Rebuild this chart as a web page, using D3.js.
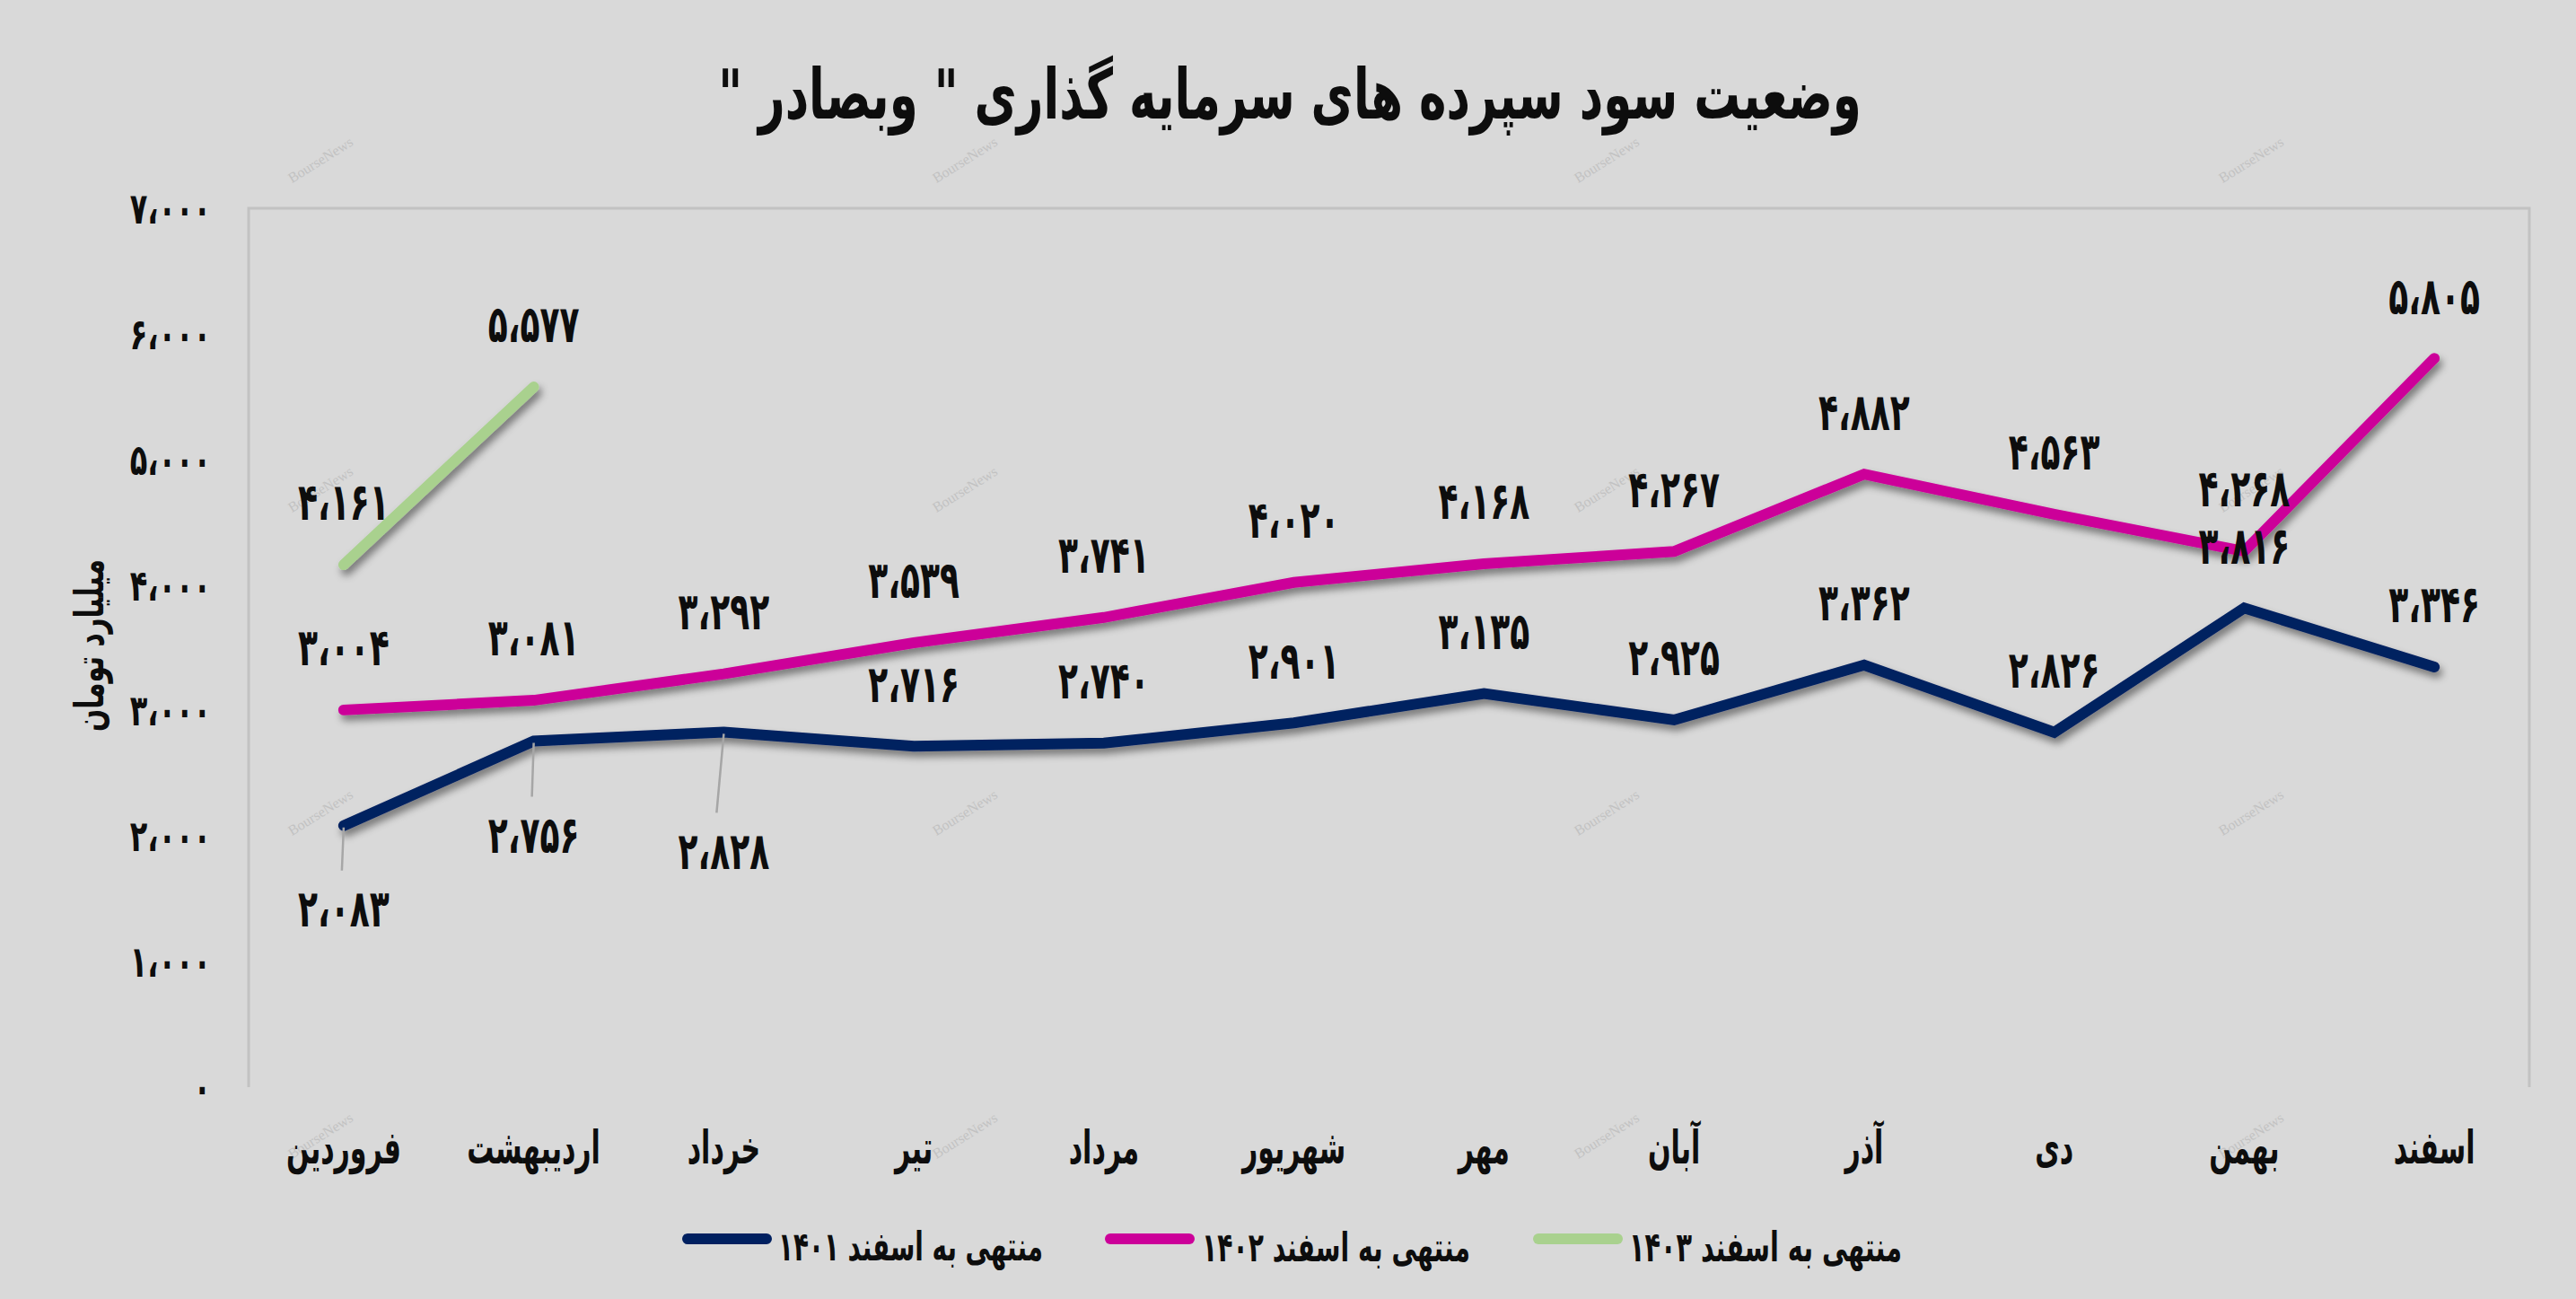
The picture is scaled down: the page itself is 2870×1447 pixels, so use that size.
<!DOCTYPE html>
<html>
<head>
<meta charset="utf-8">
<script src="https://cdn.jsdelivr.net/npm/d3@7"></script>
<style>
  html, body { margin: 0; padding: 0; background: #d9d9d9; }
  svg { display: block; }
  text { font-family: "DejaVu Sans", sans-serif; font-weight: bold; fill: #0d0d0d; }
</style>
</head>
<body>
<svg id="chart" width="2870" height="1447"></svg>
<script>
// ---------------- data ----------------
const months = ["فروردین", "اردیبهشت", "خرداد", "تیر", "مرداد", "شهریور", "مهر", "آبان", "آذر", "دی", "بهمن", "اسفند"];
const series1401 = [2083, 2756, 2828, 2716, 2740, 2901, 3135, 2925, 3362, 2826, 3816, 3346];
const series1402 = [3004, 3081, 3292, 3539, 3741, 4020, 4168, 4267, 4882, 4563, 4268, 5805];
const series1403 = [4161, 5577];
const seriesNames = ["منتهی به اسفند ۱۴۰۱", "منتهی به اسفند ۱۴۰۲", "منتهی به اسفند ۱۴۰۳"];
const yTicks = [0, 1000, 2000, 3000, 4000, 5000, 6000, 7000];
const titleText = 'وضعیت سود سپرده های سرمایه گذاری " وبصادر "';
const yTitle = "میلیارد تومان";
const watermark = "BourseNews";

// ---------------- layout / style ----------------
const W = 2870, H = 1447;
const plot = { left: 277, right: 2818, top: 232, bottom: 1211 };
const colors = ["#002060", "#cc0099", "#a9d18e"];
const fa = s => s.replace(/[0-9]/g, d => "۰۱۲۳۴۵۶۷۸۹"[+d]).replace(/,/g, "،");
const fmt = v => fa(d3.format(",")(v));

const svg = d3.select("#chart");
svg.append("rect").attr("width", W).attr("height", H).attr("fill", "#d9d9d9");

const defs = svg.append("defs");
const f = defs.append("filter").attr("id", "shadow")
  .attr("filterUnits", "userSpaceOnUse")
  .attr("x", 0).attr("y", 0).attr("width", W).attr("height", H);
f.append("feDropShadow").attr("dx", 3).attr("dy", 6).attr("stdDeviation", 4)
  .attr("flood-color", "#000").attr("flood-opacity", 0.45);

const x = d3.scaleBand().domain(months).range([plot.left, plot.right]).padding(0);
const xc = m => x(m) + x.bandwidth() / 2;
const y = d3.scaleLinear().domain([0, 7000]).range([plot.bottom, plot.top]);

// helper: place a text centred at (px,py), scaled
function place(t, px, py, sx, sy, rot) {
  t.attr("x", 0).attr("y", 0).attr("dy", 0)
   .attr("dominant-baseline", "central")
   .attr("transform", `translate(${px},${py})${rot ? ` rotate(${rot})` : ""} scale(${sx},${sy})`);
}
// helper: set font size so width fits target
function fit(t, target) {
  const fs = parseFloat(t.style("font-size"));
  const w = t.node().getComputedTextLength();
  t.style("font-size", (fs * target / w) + "px");
}

// faint watermarks
const wmX = [357, 1075, 1790, 2508];
const wmY = [178, 545, 905, 1265];
wmY.forEach(wy => wmX.forEach(wx => {
  svg.append("text")
    .attr("text-anchor", "middle")
    .attr("dominant-baseline", "central")
    .attr("transform", `translate(${wx},${wy}) rotate(-32)`)
    .style("font-family", '"Liberation Serif", serif')
    .style("font-weight", "normal")
    .style("font-size", "16px")
    .attr("fill", "#c2c2c2")
    .style("fill", "#c2c2c2")
    .text(watermark);
}));

// frame
svg.append("path")
  .attr("d", `M${plot.left},${plot.bottom}V${plot.top}H${plot.right}V${plot.bottom}`)
  .attr("fill", "none").attr("stroke", "#c2c2c2").attr("stroke-width", 3);

// title
const title = svg.append("text")
  .attr("text-anchor", "middle")
  .attr("direction", "rtl")
  .style("font-size", "60px")
  .text(titleText);
fit(title, 1274);
place(title, 1437, 106, 1, 1.5);

// y axis
const yAxis = d3.axisLeft(y).tickValues(yTicks).tickFormat(fmt).tickSize(0).tickPadding(0);
const ga = svg.append("g").attr("transform", `translate(235,0)`).call(yAxis);
ga.select(".domain").remove();
ga.selectAll("text")
  .style("font-size", "32px").style("font-family", '"DejaVu Sans", sans-serif')
  .style("font-weight", "bold").attr("fill", "#0d0d0d")
  .attr("text-anchor", "end")
  .each(function () { place(d3.select(this), 0, 0, 1, 1.5); });

const yt = svg.append("text")
  .attr("text-anchor", "middle")
  .attr("direction", "rtl")
  .style("font-size", "32px")
  .text(yTitle);
fit(yt, 192);
place(yt, 100, 719, 1, 1.5, -90);

// x axis labels
const xAxis = d3.axisBottom(x).tickSize(0).tickPadding(0);
const gx = svg.append("g").attr("transform", `translate(0,1278)`).call(xAxis);
gx.select(".domain").remove();
gx.selectAll("text")
  .style("font-size", "30px").style("font-family", '"DejaVu Sans", sans-serif')
  .style("font-weight", "bold").attr("fill", "#0d0d0d")
  .attr("direction", "rtl")
  .each(function () { place(d3.select(this), 0, 0, 1, 1.7); });

// lines
const line = d3.line().x((d, i) => xc(months[i])).y(d => y(d));
const allSeries = [series1401, series1402, series1403];
allSeries.forEach((s, k) => {
  svg.append("path")
    .datum(s)
    .attr("d", line)
    .attr("fill", "none")
    .attr("stroke", colors[k])
    .attr("stroke-width", 12)
    .attr("stroke-linecap", "round")
    .attr("stroke-linejoin", "miter")
    .attr("filter", "url(#shadow)");
});

// data labels: vertical offset (px) of label centre from its point
const labelOffset = [
  series1401.map((v, i) => i === 0 ? 92 : i === 1 ? 104 : i === 2 ? 132 : -70),
  series1402.map(() => -70),
  series1403.map(() => -70)
];

// leader lines for the labels placed below (series 1401, first three)
[0, 1, 2].forEach(i => {
  const px = xc(months[i]);
  const py = y(series1401[i]);
  const end = py + labelOffset[0][i] - 42;
  svg.append("line")
    .attr("x1", px).attr("y1", py + 2)
    .attr("x2", px - (i === 2 ? 8 : 2)).attr("y2", end)
    .attr("stroke", "#a6a6a6").attr("stroke-width", 2.5);
});

allSeries.forEach((s, k) => {
  svg.append("g").selectAll("text")
    .data(s)
    .join("text")
    .attr("text-anchor", "middle")
    .style("font-size", "36px")
    .text(d => fmt(d))
    .each(function (d, i) {
      place(d3.select(this), xc(months[i]), y(d) + labelOffset[k][i], 1, 1.6);
    });
});

// legend
const legendItems = [
  { sx: 760, tl: 867, tr: 1162 },
  { sx: 1231, tl: 1339, tr: 1638 },
  { sx: 1708, tl: 1815, tr: 2119 }
];
seriesNames.forEach((name, k) => {
  const it = legendItems[k];
  svg.append("line")
    .attr("x1", it.sx + 6).attr("x2", it.sx + 94)
    .attr("y1", 1380).attr("y2", 1380)
    .attr("stroke", colors[k]).attr("stroke-width", 12)
    .attr("stroke-linecap", "round");
  const t = svg.append("text")
    .attr("text-anchor", "middle")
    .attr("direction", "rtl")
    .style("font-size", "34px")
    .text(name);
  fit(t, it.tr - it.tl);
  place(t, (it.tl + it.tr) / 2, 1389, 1, 1.6);
});
</script>
</body>
</html>
